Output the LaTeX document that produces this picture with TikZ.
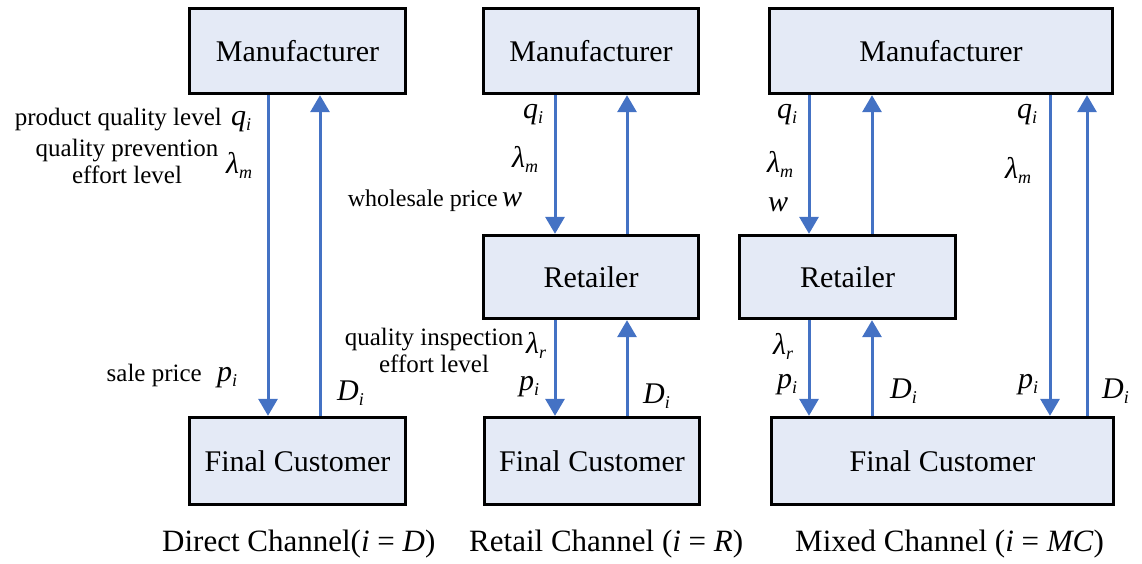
\documentclass[tikz,border=0pt]{standalone}
\usepackage{fontspec}
\setmainfont{Liberation Serif}
\usetikzlibrary{arrows.meta}
\definecolor{boxfill}{RGB}{228,234,246}
\definecolor{flowblue}{RGB}{68,114,196}
% italic symbol with an italic subscript
\newcommand\sy[2]{{\fontsize{30}{30}\selectfont\itshape #1}\raisebox{-5pt}{\fontsize{18}{18}\selectfont\itshape #2}}
\begin{document}
\begin{tikzpicture}[x=1pt,y=-1pt,
  agent/.style={draw=black, line width=3.3pt, fill=boxfill, inner sep=0pt,
                font=\fontsize{30}{30}\selectfont},
  flow/.style={draw=flowblue, line width=3pt, -{Triangle[width=19pt,length=17pt]}},
  lbl/.style={font=\fontsize{25}{26.5}\selectfont, inner sep=0pt},
  sym/.style={inner sep=0pt, anchor=base west},
  chancap/.style={font=\fontsize{31}{31}\selectfont, inner sep=0pt, anchor=base west}]
\useasboundingbox (0,0) rectangle (1142,563);

% ---- boxes ----
\node[agent, minimum width=216pt, minimum height=85pt] (m1) at (297.5,51) {Manufacturer};
\node[agent, minimum width=216pt, minimum height=87pt] (c1) at (297.5,461) {Final Customer};
\node[agent, minimum width=215pt, minimum height=85pt] (m2) at (591,51) {Manufacturer};
\node[agent, minimum width=215pt, minimum height=83pt] (r2) at (591,277) {Retailer};
\node[agent, minimum width=215pt, minimum height=87pt] (c2) at (592,461) {Final Customer};
\node[agent, minimum width=343pt, minimum height=85pt] (m3) at (941,51) {Manufacturer};
\node[agent, minimum width=216pt, minimum height=83pt] (r3) at (847.5,277) {Retailer};
\node[agent, minimum width=342pt, minimum height=87pt] (c3) at (942.5,461) {Final Customer};

% ---- lanes of the flows ----
\coordinate (a1) at (268,0);
\coordinate (b1) at (320,0);
\coordinate (a2) at (555,0);
\coordinate (b2) at (627,0);
\coordinate (a3) at (809,0);
\coordinate (b3) at (872,0);
\coordinate (a4) at (1050,0);
\coordinate (b4) at (1087,0);

% ---- flows ----
\draw[flow] (m1.south -| a1) -- (c1.north -| a1);
\draw[flow] (c1.north -| b1) -- (m1.south -| b1);

\draw[flow] (m2.south -| a2) -- (r2.north -| a2);
\draw[flow] (r2.north -| b2) -- (m2.south -| b2);
\draw[flow] (r2.south -| a2) -- (c2.north -| a2);
\draw[flow] (c2.north -| b2) -- (r2.south -| b2);

\draw[flow] (m3.south -| a3) -- (r3.north -| a3);
\draw[flow] (r3.north -| b3) -- (m3.south -| b3);
\draw[flow] (r3.south -| a3) -- (c3.north -| a3);
\draw[flow] (c3.north -| b3) -- (r3.south -| b3);
\draw[flow] (m3.south -| a4) -- (c3.north -| a4);
\draw[flow] (c3.north -| b4) -- (m3.south -| b4);

% ---- direct channel labels ----
\node[lbl, anchor=base east] (t1) at (222,125) {product quality level};
\node[sym] (q1) at (231,125) {\sy{q}{i}};
\node[lbl, align=center, anchor=base] (t2) at (127,183) {quality prevention\\effort level};
\node[sym] (l1) at (226,173) {\sy{λ}{m}};
\node[lbl, anchor=base east] (t3) at (202,381) {sale price};
\node[sym] (p1) at (217,381) {\sy{p}{i}};
\node[sym] (d1) at (337,400) {\sy{D}{i}};

% ---- retail channel labels ----
\node[lbl, anchor=base east, font=\fontsize{24}{26}\selectfont] (t4) at (498,206) {wholesale price};
\node[sym] (q2) at (523,118) {\sy{q}{i}};
\node[sym] (l2) at (512,167) {\sy{λ}{m}};
\node[sym] (w2) at (502,206) {\sy{w}{}};
\node[lbl, align=center, anchor=base] (t5) at (434,372) {quality inspection\\effort level};
\node[sym] (k2) at (526,353) {\sy{λ}{r}};
\node[sym] (p2) at (519,390) {\sy{p}{i}};
\node[sym] (d2) at (643,403) {\sy{D}{i}};

% ---- mixed channel labels ----
\node[sym] (q3) at (777,118) {\sy{q}{i}};
\node[sym] (l3) at (767,172) {\sy{λ}{m}};
\node[sym] (w3) at (768,211) {\sy{w}{}};
\node[sym] (k3) at (773,354) {\sy{λ}{r}};
\node[sym] (p3) at (777,388) {\sy{p}{i}};
\node[sym] (d3) at (890,398) {\sy{D}{i}};
\node[sym] (q4) at (1017,118) {\sy{q}{i}};
\node[sym] (l4) at (1005,178) {\sy{λ}{m}};
\node[sym] (p4) at (1018,388) {\sy{p}{i}};
\node[sym] (d4) at (1102,398) {\sy{D}{i}};

% ---- captions ----
\node[chancap] (cap1) at (162,551) {Direct Channel(\textit{i} = \textit{D})};
\node[chancap] (cap2) at (469,551) {Retail Channel (\textit{i} = \textit{R})};
\node[chancap] (cap3) at (795,551) {Mixed Channel (\textit{i} = \textit{MC})};
\end{tikzpicture}
\end{document}
